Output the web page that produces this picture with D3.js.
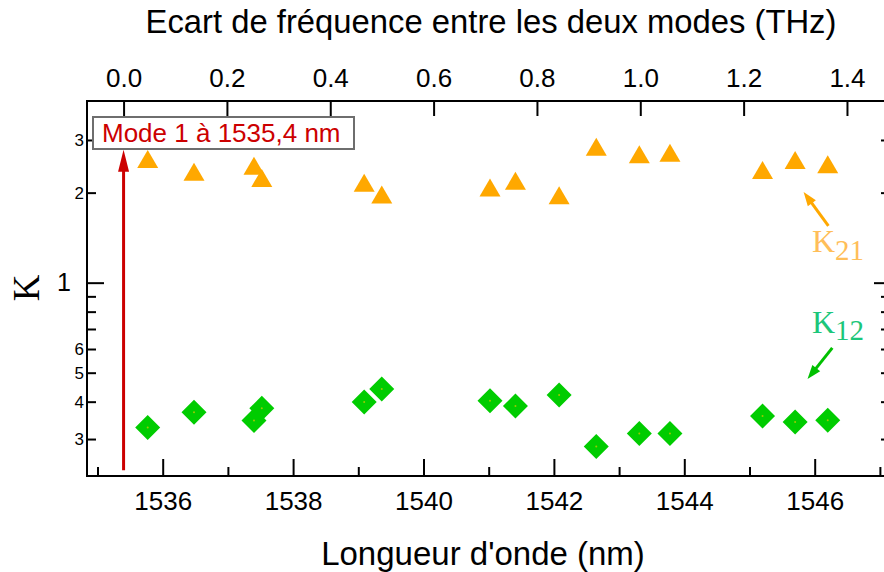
<!DOCTYPE html>
<html><head><meta charset="utf-8">
<script src="https://cdn.jsdelivr.net/npm/d3@7"></script>
<style>body{margin:0;background:#fff}svg{display:block}</style>
</head><body><svg id="chart" width="884" height="572"></svg>
<script>
// Measured coupling coefficients versus wavelength
const wavelengths = [1535.77, 1536.48, 1537.40, 1537.52, 1539.09, 1539.36, 1541.02, 1541.41, 1542.08, 1542.65, 1543.31, 1543.78, 1545.20, 1545.70, 1546.20];
const k21 = [2.59, 2.35, 2.46, 2.24, 2.16, 1.97, 2.08, 2.19, 1.96, 2.85, 2.69, 2.72, 2.38, 2.57, 2.49];
const k12 = [0.328, 0.369, 0.346, 0.380, 0.399, 0.441, 0.403, 0.387, 0.421, 0.283, 0.313, 0.313, 0.358, 0.342, 0.347];

// Axis ticks
const bottomMajor = [1536, 1538, 1540, 1542, 1544, 1546];
const bottomMinor = [1535, 1537, 1539, 1541, 1543, 1545, 1547];
const topTicks = [0.0, 0.2, 0.4, 0.6, 0.8, 1.0, 1.2, 1.4];
const yTicks = [0.3, 0.4, 0.5, 0.6, 0.7, 0.8, 0.9, 1, 2, 3];
const yLabelled = [0.3, 0.4, 0.5, 0.6, 1, 2, 3];

// Reference mode and frequency conversion
const refWavelength = 1535.4;
const nmPerTHz = 7.925;
const refArrow = [0.236, 2.78];
const k21Arrow = [[1546.21, 1.548], [1545.83, 2.011]];
const k12Arrow = [[1546.27, 0.605], [1545.89, 0.4764]];

const svg = d3.select("#chart");
const L = 87, R = 890, T = 101, B = 476;
const sans = "'Liberation Sans', Arial, sans-serif";
const serif = "'Liberation Serif', 'Times New Roman', serif";

const x = d3.scaleLinear().domain([1534.839, 1547.155]).range([L, R]);
const xTop = d3.scaleLinear()
  .domain(x.domain().map(l => (l - refWavelength) / nmPerTHz))
  .range([L, R]);
const y = d3.scaleLog().domain([0.2257, 4.05]).range([B, T]);

// Frame
svg.append("rect").attr("x", L).attr("y", T).attr("width", R - L).attr("height", B - T)
  .attr("fill", "none").attr("stroke", "#000").attr("stroke-width", 2);

function styleAxis(g) {
  g.select(".domain").remove();
  g.selectAll(".tick line").attr("stroke", "#000").attr("stroke-width", 2);
  g.selectAll(".tick text").attr("fill", "#000").attr("font-family", sans);
}

// Bottom axis
const gB = svg.append("g").attr("transform", `translate(0,${B})`)
  .call(d3.axisBottom(x).tickValues(bottomMajor.concat(bottomMinor)).tickSize(-9).tickPadding(15.5)
    .tickFormat(d => bottomMajor.includes(d) ? String(d) : ""));
styleAxis(gB);
gB.selectAll(".tick").filter(d => bottomMajor.includes(d)).select("line").attr("y2", -17);
gB.selectAll(".tick text").attr("font-size", 26);

// Top axis
const gT = svg.append("g").attr("transform", `translate(0,${T})`)
  .call(d3.axisTop(xTop).tickValues(topTicks).tickSize(-15).tickPadding(14).tickFormat(d3.format(".1f")));
styleAxis(gT);
gT.selectAll(".tick text").attr("font-size", 26);

// Left axis
const mantissa = d => d >= 1 ? String(d) : String(Math.round(d * 10));
const gL = svg.append("g").attr("transform", `translate(${L},0)`)
  .call(d3.axisLeft(y).tickValues(yTicks).tickSize(-9).tickPadding(3)
    .tickFormat(d => yLabelled.includes(d) ? mantissa(d) : ""));
styleAxis(gL);
gL.selectAll(".tick text").attr("font-size", 17);
const one = gL.selectAll(".tick").filter(d => d === 1);
one.select("line").attr("x2", 17);
one.select("text").attr("font-size", 25).attr("x", -16);

// Right axis
const gR = svg.append("g").attr("transform", `translate(${R},0)`)
  .call(d3.axisRight(y).tickValues(yTicks).tickSize(-9).tickFormat(""));
styleAxis(gR);
gR.selectAll(".tick").filter(d => d === 1).select("line").attr("x2", -16);

// Axis titles
svg.append("text").attr("x", 491).attr("y", 33).attr("text-anchor", "middle")
  .attr("font-family", sans).attr("font-size", 32.8).text("Ecart de fréquence entre les deux modes (THz)");
svg.append("text").attr("x", 483).attr("y", 565).attr("text-anchor", "middle")
  .attr("font-family", sans).attr("font-size", 33).text("Longueur d'onde (nm)");
svg.append("text").attr("transform", "translate(39,288) rotate(-90)").attr("text-anchor", "middle")
  .attr("font-family", serif).attr("font-size", 37).text("K");

// K21 markers (triangles)
const tri = "M0,-9L10.5,9L-10.5,9Z";
svg.append("g").selectAll("path").data(wavelengths).join("path")
  .attr("d", tri).attr("fill", "#FFA800")
  .attr("transform", (d, i) => `translate(${x(d)},${y(k21[i])})`);

// K12 markers (diamonds with centre dot)
const dia = "M0,-12.5L12.5,0L0,12.5L-12.5,0Z";
const gD = svg.append("g").selectAll("g").data(wavelengths).join("g")
  .attr("transform", (d, i) => `translate(${x(d)},${y(k12[i])})`);
gD.append("path").attr("d", dia).attr("fill", "#00CC00");
gD.append("circle").attr("r", 1).attr("fill", "#9CC800");

// Arrow helper
function arrow(x1, y1, x2, y2, color, w, headLen, headHalf) {
  const dx = x2 - x1, dy = y2 - y1, len = Math.hypot(dx, dy);
  const ux = dx / len, uy = dy / len;
  const bx = x2 - ux * headLen, by = y2 - uy * headLen;
  svg.append("line").attr("x1", x1).attr("y1", y1)
    .attr("x2", x2 - ux * (headLen - 2)).attr("y2", y2 - uy * (headLen - 2))
    .attr("stroke", color).attr("stroke-width", w);
  svg.append("path")
    .attr("d", `M${x2},${y2}L${bx - uy * headHalf},${by + ux * headHalf}L${bx + uy * headHalf},${by - ux * headHalf}Z`)
    .attr("fill", color);
}

// Reference mode arrow
arrow(x(refWavelength), y(refArrow[0]), x(refWavelength), y(refArrow[1]), "#CC0000", 3, 22, 5.5);

// Series arrows
arrow(x(k21Arrow[0][0]), y(k21Arrow[0][1]), x(k21Arrow[1][0]), y(k21Arrow[1][1]), "#FFA800", 3, 14, 5);
arrow(x(k12Arrow[0][0]), y(k12Arrow[0][1]), x(k12Arrow[1][0]), y(k12Arrow[1][1]), "#00C000", 3, 14, 5);

// Reference mode label
svg.append("rect").attr("x", 93).attr("y", 117).attr("width", 261).attr("height", 32)
  .attr("fill", "#fff").attr("stroke", "#6E6E6E").attr("stroke-width", 2);
svg.append("text").attr("x", 102).attr("y", 142).attr("font-family", sans).attr("font-size", 26)
  .attr("fill", "#CC0000").text("Mode 1 à 1535,4 nm");

// Series labels
const lab21 = svg.append("text").attr("x", 812).attr("y", 252).attr("font-family", serif)
  .attr("font-size", 32).attr("fill", "#FFBE58");
lab21.append("tspan").text("K");
lab21.append("tspan").attr("dy", 8).attr("font-size", 29).text("21");
const lab12 = svg.append("text").attr("x", 812).attr("y", 333).attr("font-family", serif)
  .attr("font-size", 32).attr("fill", "#1CC67A");
lab12.append("tspan").text("K");
lab12.append("tspan").attr("dy", 7).attr("font-size", 29).text("12");
</script>
</body></html>
